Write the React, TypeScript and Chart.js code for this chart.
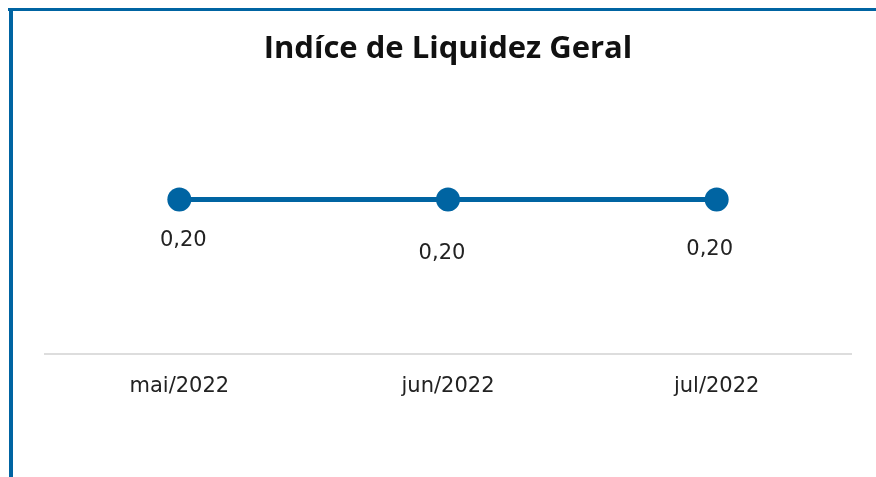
import React, { useEffect, useRef } from "react";
import { Chart, registerables } from "chart.js";

Chart.register(...registerables);

const categories = ["mai/2022", "jun/2022", "jul/2022"];
const values = [0.2, 0.2, 0.2];
const valueLabels = ["0,20", "0,20", "0,20"];
const titleText = "Indíce de Liquidez Geral";

const BLUE = "#0064a2";
const TITLE_FONT = "'Open Sans', 'Noto Sans', sans-serif";
const FONT = "'DejaVu Sans', sans-serif";

const labelOffsets = [
  [4, 41],
  [-6, 54],
  [-7, 50],
];

const valueLabelPlugin = {
  id: "valueLabels",
  afterDatasetsDraw(chart: any) {
    const ctx = chart.ctx;
    const meta = chart.getDatasetMeta(0);
    ctx.save();
    ctx.font = `21px ${FONT}`;
    ctx.fillStyle = "#222222";
    ctx.textAlign = "center";
    ctx.textBaseline = "middle";
    meta.data.forEach((pt: any, i: number) => {
      const off = labelOffsets[i] || [0, 45];
      ctx.fillText(valueLabels[i], pt.x + off[0], pt.y + off[1]);
    });
    ctx.restore();
  },
};

export default function App() {
  const ref = useRef<HTMLCanvasElement | null>(null);
  useEffect(() => {
    if (!ref.current) return;
    const chart = new Chart(ref.current, {
      type: "line",
      data: {
        labels: categories,
        datasets: [
          {
            data: values,
            borderColor: BLUE,
            backgroundColor: BLUE,
            borderWidth: 5,
            pointRadius: 12,
            pointHoverRadius: 12,
            pointBackgroundColor: BLUE,
            pointBorderWidth: 0,
            tension: 0,
          },
        ],
      },
      options: {
        responsive: false,
        animation: false,
        layout: { padding: { left: 45, right: 25, top: 0, bottom: 58 } },
        plugins: {
          legend: { display: false },
          tooltip: { enabled: false },
          title: {
            display: true,
            text: titleText,
            color: "#111111",
            font: { family: TITLE_FONT, size: 31, weight: "bold" },
            padding: { top: 31, bottom: 54 },
          },
        },
        scales: {
          x: {
            offset: true,
            grid: { display: false, drawTicks: false },
            border: { display: true, color: "#dddddd", width: 2 },
            ticks: {
              color: "#222222",
              font: { family: FONT, size: 21 },
              padding: 20,
            },
          },
          y: {
            display: false,
            min: 0,
            max: 0.3,
          },
        },
      },
      plugins: [valueLabelPlugin],
    });
    return () => chart.destroy();
  }, []);

  return (
    <div style={{ position: "fixed", left: 0, top: 0, width: 876, height: 477, background: "#fff", overflow: "hidden" }}>
      <canvas ref={ref} width={876} height={477} style={{ position: "absolute", left: 0, top: 0 }} />
      <div style={{ position: "absolute", left: 8, top: 8, width: 868, height: 3, background: BLUE }} />
      <div style={{ position: "absolute", left: 9, top: 8, width: 4, height: 469, background: BLUE }} />
    </div>
  );
}
